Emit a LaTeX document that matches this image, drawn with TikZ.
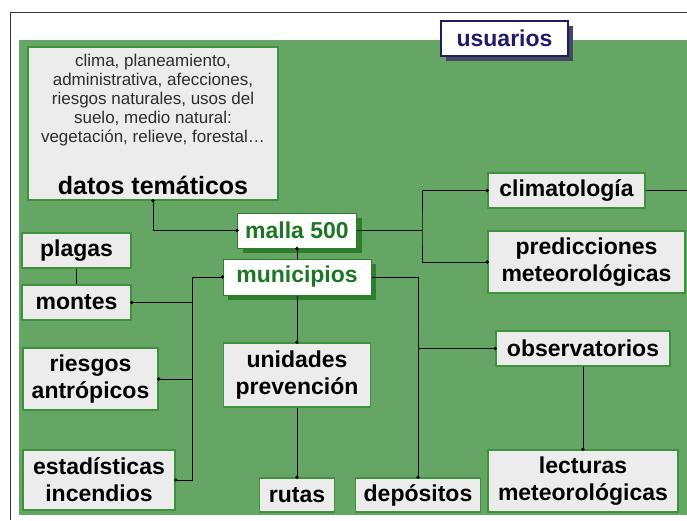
\documentclass[tikz,border=0pt]{standalone}
\usepackage{fontspec}
\setmainfont{Liberation Sans}
\usetikzlibrary{shadows}
\definecolor{bggreen}{RGB}{101,166,101}
\definecolor{edgegreen}{RGB}{62,146,62}
\definecolor{boxgray}{RGB}{236,236,236}
\definecolor{txtgreen}{RGB}{28,118,36}
\definecolor{shadgreen}{RGB}{46,126,46}
\definecolor{navyc}{RGB}{28,28,105}
\definecolor{shadnavy}{RGB}{70,72,95}
\definecolor{darktext}{RGB}{45,45,45}
\begin{document}
\begin{tikzpicture}[x=1pt,y=-1pt,
 box/.style={draw=edgegreen, line width=1.5pt, fill=boxgray, inner sep=0pt, align=center,
   font=\fontsize{23}{27}\selectfont\bfseries, text=black},
 hub/.style={draw=shadgreen, line width=1pt, fill=white, inner sep=0pt,
   font=\fontsize{23}{27}\selectfont\bfseries, text=txtgreen,
   drop shadow={shadow xshift=5pt, shadow yshift=-5pt, fill=shadgreen, opacity=1}},
 link/.style={line width=0.9pt, black},
 dotc/.style={black}
]
\useasboundingbox (0,0) rectangle (687,520);
% background
\fill[bggreen] (19,40) rectangle (687,515);
\draw[line width=0.8pt, black!80] (10,520) -- (10,12) -- (687,12);

% usuarios
\node[draw=navyc, line width=2pt, fill=white, inner sep=0pt, minimum width=127pt, minimum height=35pt,
  font=\fontsize{23}{27}\selectfont\bfseries, text=navyc,
  drop shadow={shadow xshift=5pt, shadow yshift=-5pt, fill=shadnavy, opacity=1}] (usuarios) at (504.5,38.5) {usuarios};

% datos tematicos
\node[box, minimum width=250pt, minimum height=153pt] (datos) at (153,123.5) {};
\node[font=\fontsize{17}{19.2}\selectfont, text=darktext, align=center, inner sep=0pt] (datostxt) at (153,100)
 {clima, planeamiento,\\administrativa, afecciones,\\riesgos naturales, usos del\\suelo, medio natural:\\vegetación, relieve, forestal…};
\node[font=\fontsize{25}{28}\selectfont\bfseries, inner sep=0pt] (datostitle) at (153,185) {datos temáticos};

% hubs
\node[hub, minimum width=119pt, minimum height=35pt] (malla) at (297,230.5) {malla 500};
\node[hub, minimum width=148pt, minimum height=36pt] (municipios) at (297,277) {municipios};

% left column
\node[box, minimum width=109pt, minimum height=35pt] (plagas) at (76.5,250.5) {plagas};
\node[box, minimum width=109pt, minimum height=35pt] (montes) at (76.5,302.5) {montes};
\node[box, minimum width=135pt, minimum height=62pt] (riesgos) at (90.5,379) {riesgos\\antrópicos};
\node[box, minimum width=152pt, minimum height=60pt] (estad) at (99,480) {estadísticas\\incendios};

% middle
\node[box, minimum width=147pt, minimum height=64pt] (unidades) at (297,375) {unidades\\prevención};
\node[box, minimum width=75pt, minimum height=34pt] (rutas) at (297,495) {rutas};
\node[box, minimum width=125pt, minimum height=34pt] (depositos) at (418,495) {depósitos};

% right
\node[box, minimum width=157pt, minimum height=35pt] (clima) at (566.5,190.5) {climatología};
\node[box, minimum width=197pt, minimum height=62pt] (pred) at (586.5,262) {predicciones\\meteorológicas};
\node[box, minimum width=174pt, minimum height=35pt] (obs) at (583,348.5) {observatorios};
\node[box, minimum width=190pt, minimum height=62pt] (lect) at (583,481) {lecturas\\meteorológicas};

% connectors
\coordinate (j1) at (422,230.5);
\coordinate (clend) at (687,190.5);
\coordinate (j2) at (192,277);
\coordinate (j3) at (418,277);
\draw[link] (datos.south) |- (malla.west);
\draw[link] (malla.east) -- (j1);
\draw[link] (clima.west) -| (j1) |- (pred.west);
\draw[link] (clima.east) -- (clend);
\draw[link] (malla.south) -- (municipios.north);
\draw[link] (plagas.south) -- (montes.north);
\draw[link] (municipios.west) -- (j2) |- (estad.east);
\draw[link] (montes.east) -- (montes.east -| j2);
\draw[link] (riesgos.east) -- (riesgos.east -| j2);
\draw[link] (municipios.south) -- (unidades.north);
\draw[link] (unidades.south) -- (rutas.north);
\draw[link] (municipios.east) -- (j3) -- (depositos.north);
\draw[link] (obs.west) -- (obs.west -| j3);
\draw[link] (obs.south) -- (lect.north);

% dots
\foreach \p in {datos.south, malla.west, clima.west, pred.west, malla.south, municipios.west,
  montes.east, riesgos.east, estad.east, unidades.north, rutas.north, depositos.north, obs.west, lect.north}
  \fill[dotc] (\p) circle (1.9pt);
\end{tikzpicture}
\end{document}
